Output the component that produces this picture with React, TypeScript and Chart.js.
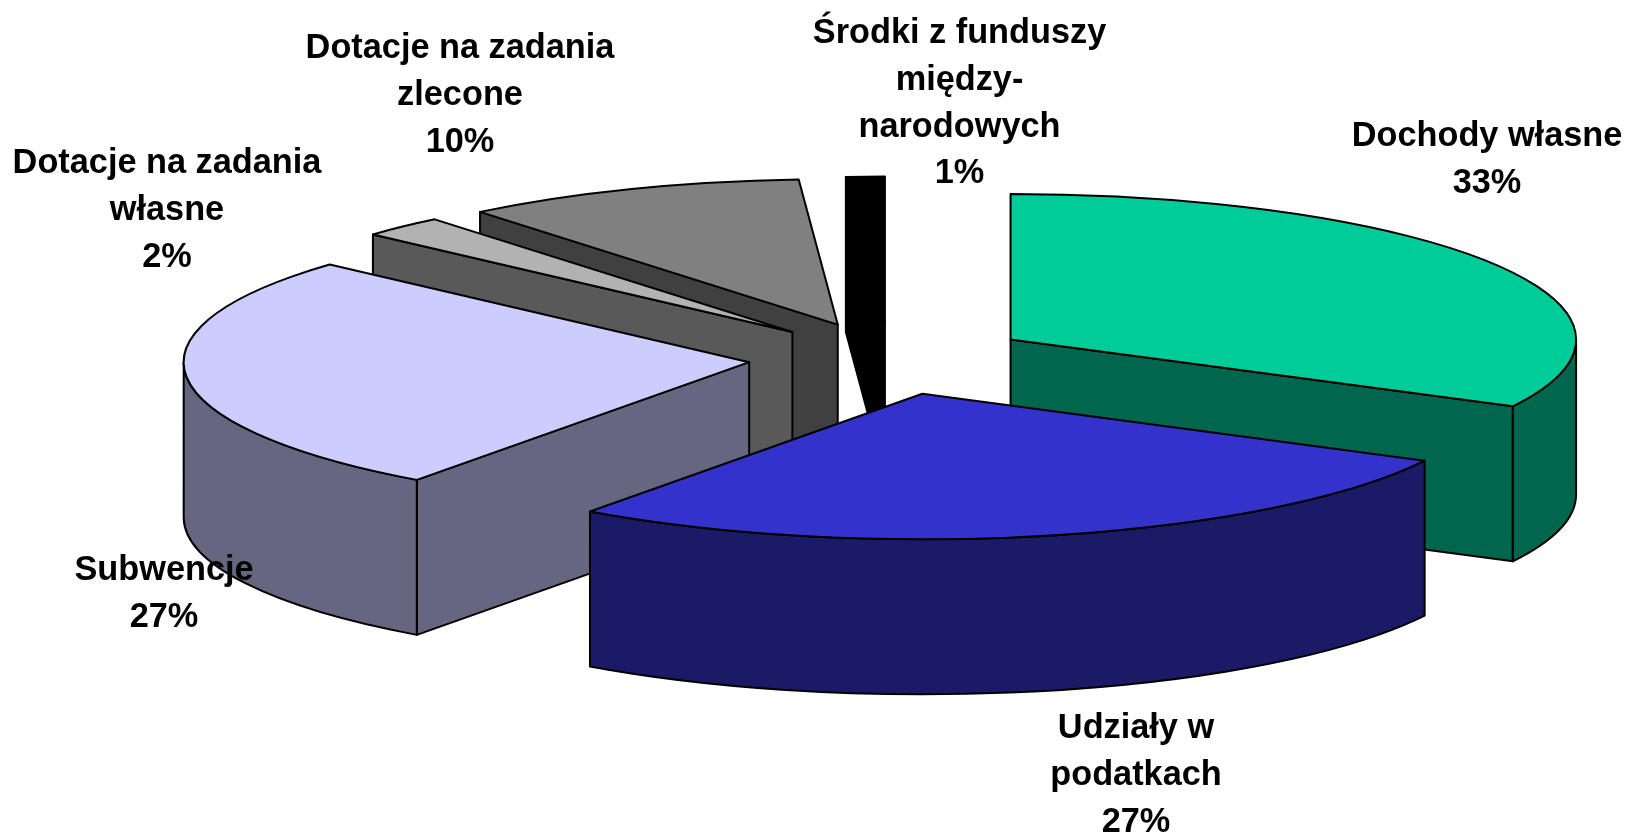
import React, { useEffect, useRef } from "react";
import { Chart, registerables } from "chart.js";

Chart.register(...registerables);

// ---- data ----
const categories = [
  "Dochody własne",
  "Udziały w podatkach",
  "Subwencje",
  "Dotacje na zadania własne",
  "Dotacje na zadania zlecone",
  "Środki z funduszy między-narodowych",
];
// slice shares; the printed labels round them
const values = [32.6, 27.4, 26.7, 2.4, 9.8, 1.1];
const labelLines = [
  ["Dochody własne"],
  ["Udziały w", "podatkach"],
  ["Subwencje"],
  ["Dotacje na zadania", "własne"],
  ["Dotacje na zadania", "zlecone"],
  ["Środki z funduszy", "między-", "narodowych"],
];
const topColors = ["#00CC99", "#3333CC", "#CCCCFF", "#B2B2B2", "#808080", "#000000"];
const wallColors = ["#00664D", "#1A1A66", "#666680", "#595959", "#404040", "#000000"];

// ---- layout ----
const WIDTH = 1630;
const HEIGHT = 836;
const CX = 889.8;
const CY = 358.4;
const RX = 565.5;
const RY = 145.5;
const DEPTH = 155;
const EXPLODE = 0.25;
const LINE_W = 2;
const LINE_GAP = 46.6;
const FONT = 'bold 34.3px "Liberation Sans", Arial, sans-serif';
// paint order, back to front
const paintOrder = [5, 4, 3, 2, 0, 1];
// centre x and first-line centre y of each label
const labelAnchors = [
  [1487, 137],
  [1136, 729],
  [164, 571],
  [167, 164],
  [460, 49],
  [959.5, 34],
];

const pie3d = {
  id: "pie3d",
  beforeDatasetDraw(chart: any) {
    const ctx: CanvasRenderingContext2D = chart.ctx;
    const arcs = chart.getDatasetMeta(0).data;
    const k = RY / RX;

    for (const i of paintOrder) {
      const arc = arcs[i];
      const { startAngle: a0, endAngle: a1, outerRadius: r } = arc;
      const mid = (a0 + a1) / 2;
      const ox = CX + Math.cos(mid) * r * EXPLODE;
      const oy = CY + Math.sin(mid) * r * k * EXPLODE;
      const px = (t: number) => ox + Math.cos(t) * r;
      const py = (t: number) => oy + Math.sin(t) * r * k;

      ctx.save();
      ctx.lineWidth = LINE_W;
      ctx.strokeStyle = "#000";
      ctx.lineJoin = "round";
      ctx.fillStyle = wallColors[i];

      // radial walls, front-facing only
      const radial = (t: number) => {
        ctx.beginPath();
        ctx.moveTo(ox, oy);
        ctx.lineTo(px(t), py(t));
        ctx.lineTo(px(t), py(t) + DEPTH);
        ctx.lineTo(ox, oy + DEPTH);
        ctx.closePath();
        ctx.fill();
        ctx.stroke();
      };
      if (Math.cos(a0) < -1e-6) radial(a0);
      if (Math.cos(a1) > 1e-6) radial(a1);

      // curved outer wall, front half only
      const s = Math.max(a0, 0);
      const e = Math.min(a1, Math.PI);
      if (s < e) {
        ctx.beginPath();
        ctx.ellipse(ox, oy, r, r * k, 0, s, e);
        ctx.lineTo(px(e), py(e) + DEPTH);
        ctx.ellipse(ox, oy + DEPTH, r, r * k, 0, e, s, true);
        ctx.closePath();
        ctx.fill();
        ctx.stroke();
      }

      // top face: the library's own arc, flattened and moved out
      ctx.save();
      ctx.translate(ox, oy);
      ctx.scale(1, k);
      ctx.translate(-arc.x, -arc.y);
      arc.draw(ctx);
      ctx.restore();

      ctx.beginPath();
      ctx.moveTo(ox, oy);
      ctx.ellipse(ox, oy, r, r * k, 0, a0, a1);
      ctx.closePath();
      ctx.stroke();
      ctx.restore();
    }
    return false;
  },
  afterDatasetsDraw(chart: any) {
    const ctx: CanvasRenderingContext2D = chart.ctx;
    ctx.save();
    ctx.font = FONT;
    ctx.fillStyle = "#000";
    ctx.textAlign = "center";
    ctx.textBaseline = "middle";
    categories.forEach((_, i) => {
      const [x, y] = labelAnchors[i];
      const lines = [...labelLines[i], `${Math.round(values[i])}%`];
      lines.forEach((line, j) => ctx.fillText(line, x, y + j * LINE_GAP));
    });
    ctx.restore();
  },
};

export default function App() {
  const ref = useRef<HTMLCanvasElement>(null);
  useEffect(() => {
    const chart = new Chart(ref.current as HTMLCanvasElement, {
      type: "pie",
      data: {
        labels: categories,
        datasets: [
          {
            data: values,
            backgroundColor: topColors,
            borderWidth: 0,
          },
        ],
      },
      options: {
        responsive: false,
        animation: false,
        radius: RX,
        layout: { padding: 0 },
        plugins: {
          legend: { display: false },
          tooltip: { enabled: false },
          title: { display: false },
        },
      } as any,
      plugins: [pie3d as any],
    });
    return () => chart.destroy();
  }, []);
  return (
    <div style={{ position: "fixed", left: 0, top: 0, width: WIDTH, height: HEIGHT, background: "#fff" }}>
      <canvas ref={ref} width={WIDTH} height={HEIGHT} style={{ display: "block" }} />
    </div>
  );
}
